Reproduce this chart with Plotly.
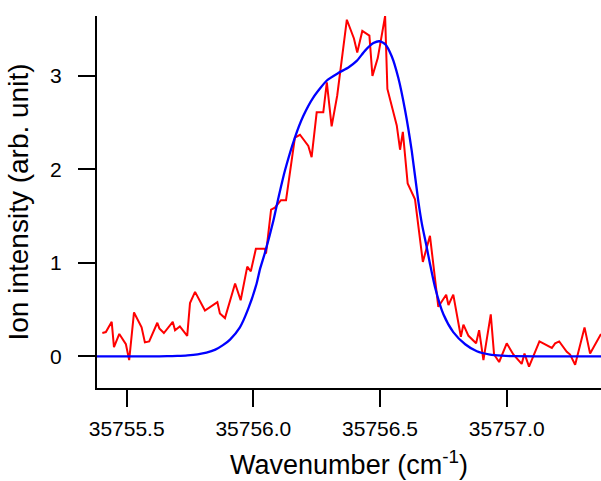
import plotly.graph_objects as go

# Experimental spectrum (red)
exp_x = [35755.404, 35755.418, 35755.441, 35755.450, 35755.471, 35755.497, 35755.510,
         35755.529, 35755.559, 35755.572, 35755.589, 35755.621, 35755.629, 35755.647,
         35755.682, 35755.691, 35755.710, 35755.739, 35755.750, 35755.770, 35755.809,
         35755.858, 35755.868, 35755.888, 35755.928, 35755.950, 35755.976, 35755.990,
         35756.010, 35756.046, 35756.050, 35756.070, 35756.085, 35756.109, 35756.129,
         35756.164, 35756.184, 35756.217, 35756.230, 35756.250, 35756.276, 35756.290,
         35756.309, 35756.331, 35756.369, 35756.397, 35756.410, 35756.430, 35756.458,
         35756.470, 35756.491, 35756.520, 35756.529, 35756.566, 35756.579, 35756.590,
         35756.609, 35756.638, 35756.669, 35756.697, 35756.730, 35756.761, 35756.770,
         35756.789, 35756.819, 35756.829, 35756.849, 35756.879, 35756.891, 35756.908,
         35756.937, 35756.950, 35756.970, 35757.000, 35757.026, 35757.059, 35757.070,
         35757.088, 35757.129, 35757.158, 35757.178, 35757.191, 35757.207, 35757.237,
         35757.250, 35757.270, 35757.290, 35757.307, 35757.329, 35757.356, 35757.372]
exp_y = [0.25, 0.26, 0.37, 0.10, 0.24, 0.13, -0.04,
         0.47, 0.31, 0.15, 0.16, 0.36, 0.30, 0.25,
         0.37, 0.28, 0.32, 0.22, 0.57, 0.69, 0.49,
         0.58, 0.46, 0.41, 0.78, 0.60, 0.96, 0.91,
         1.15, 1.15, 1.10, 1.57, 1.59, 1.67, 1.67,
         2.34, 2.37, 2.25, 2.13, 2.61, 2.61, 2.93,
         2.46, 2.79, 3.60, 3.40, 3.25, 3.48, 3.43,
         3.00, 3.19, 3.64, 2.86, 2.47, 2.21, 2.40,
         1.85, 1.68, 1.01, 1.29, 0.53, 0.66, 0.55,
         0.66, 0.21, 0.34, 0.22, 0.14, 0.28, -0.04,
         0.45, 0.02, -0.06, 0.14, 0.02, -0.08, 0.03,
         -0.11, 0.16, 0.12, 0.09, 0.14, 0.16, 0.05,
         0.02, -0.09, 0.14, 0.31, 0.03, 0.17, 0.24]

# Fitted profile (blue)
fit_x = [35755.383, 35755.500, 35755.600, 35755.660, 35755.700, 35755.740, 35755.780,
         35755.815, 35755.850, 35755.880, 35755.908,
         35755.947, 35755.980, 35756.013, 35756.026, 35756.046, 35756.079, 35756.096,
         35756.125, 35756.164, 35756.197, 35756.237, 35756.290, 35756.335, 35756.375,
         35756.408, 35756.441, 35756.474, 35756.497, 35756.520, 35756.546, 35756.572,
         35756.599, 35756.625, 35756.651, 35756.665, 35756.684, 35756.697, 35756.717,
         35756.750, 35756.789, 35756.836, 35756.882, 35756.934, 35756.980, 35757.030,
         35757.200, 35757.372]
fit_y = [0.0, 0.0, 0.0, 0.002, 0.005, 0.011, 0.022,
         0.04, 0.072, 0.12, 0.18,
         0.31, 0.51, 0.78, 0.93, 1.11, 1.45, 1.66,
         1.99, 2.34, 2.57, 2.77, 2.95, 3.03, 3.09,
         3.16, 3.27, 3.35, 3.37, 3.34, 3.21, 2.98,
         2.63, 2.20, 1.66, 1.42, 1.17, 0.99, 0.74,
         0.45, 0.26, 0.13, 0.055, 0.02, 0.008, 0.002,
         0.0, 0.0]

x_ticks = [35755.5, 35756.0, 35756.5, 35757.0]
x_tick_labels = ["35755.5", "35756.0", "35756.5", "35757.0"]
y_ticks = [0, 1, 2, 3]

FONT = "Liberation Sans, Arial, sans-serif"

fig = go.Figure()
fig.add_trace(go.Scatter(x=exp_x, y=exp_y, mode="lines",
                         line=dict(color="#ff0000", width=2), showlegend=False))
fig.add_trace(go.Scatter(x=fit_x, y=fit_y, mode="lines",
                         line=dict(color="#0000ff", width=2.3, shape="spline", smoothing=0.6),
                         showlegend=False))

fig.update_layout(
    width=601, height=481,
    margin=dict(l=97, r=0, t=16, b=93),
    paper_bgcolor="white", plot_bgcolor="white",
    font=dict(family=FONT, color="black", size=21),
    xaxis=dict(
        range=[35755.383, 35757.372],
        tickvals=x_ticks, ticktext=x_tick_labels,
        ticks="outside", ticklen=17, tickwidth=2, tickcolor="black",
        ticklabelstandoff=4,
        showline=True, linecolor="black", linewidth=2,
        showgrid=False, zeroline=False,
        tickfont=dict(size=21),
        title=dict(text="Wavenumber (cm<sup>-1</sup>)", font=dict(size=27), standoff=16),
    ),
    yaxis=dict(
        range=[-0.338, 3.64],
        tickvals=y_ticks,
        ticks="outside", ticklen=17, tickwidth=2, tickcolor="black",
        ticklabelstandoff=12,
        showline=True, linecolor="black", linewidth=2,
        showgrid=False, zeroline=False,
        tickfont=dict(size=21),
        title=dict(text="Ion intensity (arb. unit)", font=dict(size=28), standoff=13),
    ),
)

fig.write_html("out.html")
